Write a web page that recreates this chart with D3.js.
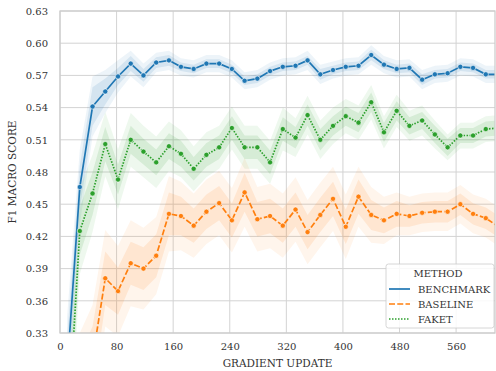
<!DOCTYPE html>
<html>
<head>
<meta charset="utf-8">
<script src="https://cdn.jsdelivr.net/npm/d3@7"></script>
<style>
  body { margin: 0; background: #fff; }
  text { font-family: "DejaVu Serif", serif; fill: #333; }
</style>
</head>
<body>
<div id="chart"></div>
<script>
// gradient update at which each evaluation was made
const updates = [10, 28, 46, 64, 82, 100, 118, 136, 154, 171, 189, 207, 225, 243, 261, 279, 297, 315,
  333, 350, 368, 386, 404, 422, 440, 458, 476, 494, 512, 530, 548, 566, 584, 602, 620];

const benchmark = [0.295, 0.466, 0.541, 0.555, 0.569, 0.581, 0.570, 0.582, 0.584, 0.578, 0.576, 0.581,
  0.581, 0.576, 0.565, 0.567, 0.574, 0.578, 0.579, 0.584, 0.571, 0.575, 0.578, 0.579, 0.589, 0.580,
  0.576, 0.577, 0.566, 0.571, 0.572, 0.578, 0.577, 0.571, 0.571];
const baseline = [0.26, 0.28, 0.306, 0.381, 0.369, 0.395, 0.390, 0.402, 0.441, 0.439, 0.430, 0.443,
  0.451, 0.435, 0.461, 0.436, 0.439, 0.430, 0.445, 0.424, 0.440, 0.455, 0.429, 0.457, 0.440, 0.435,
  0.441, 0.439, 0.442, 0.443, 0.443, 0.450, 0.441, 0.437, 0.429];
const faket = [0.225, 0.425, 0.460, 0.506, 0.473, 0.510, 0.499, 0.489, 0.504, 0.497, 0.483, 0.496,
  0.503, 0.521, 0.503, 0.503, 0.489, 0.520, 0.512, 0.533, 0.510, 0.523, 0.532, 0.526, 0.545, 0.517,
  0.537, 0.523, 0.528, 0.515, 0.503, 0.514, 0.514, 0.520, 0.521];

// half widths of the inner and outer uncertainty bands
const benchmarkInner = [0.03, 0.02, 0.018, 0.012, 0.008, 0.007, 0.006, 0.005, 0.005, 0.004, 0.004, 0.004,
  0.004, 0.004, 0.004, 0.004, 0.004, 0.004, 0.004, 0.004, 0.005, 0.004, 0.004, 0.004, 0.005, 0.004,
  0.004, 0.004, 0.005, 0.004, 0.004, 0.004, 0.004, 0.004, 0.004];
const benchmarkOuter = [0.05, 0.035, 0.028, 0.02, 0.015, 0.012, 0.011, 0.009, 0.009, 0.008, 0.008, 0.008,
  0.008, 0.008, 0.008, 0.008, 0.008, 0.008, 0.008, 0.009, 0.009, 0.008, 0.008, 0.008, 0.009, 0.008,
  0.008, 0.008, 0.009, 0.008, 0.008, 0.008, 0.008, 0.008, 0.008];
const baselineInner = [0.03, 0.03, 0.03, 0.025, 0.022, 0.02, 0.02, 0.02, 0.02, 0.018, 0.016, 0.016,
  0.016, 0.016, 0.018, 0.016, 0.016, 0.016, 0.016, 0.016, 0.016, 0.016, 0.016, 0.016, 0.014, 0.012,
  0.012, 0.01, 0.01, 0.01, 0.01, 0.01, 0.01, 0.01, 0.01];
const baselineOuter = [0.05, 0.05, 0.05, 0.045, 0.042, 0.04, 0.038, 0.036, 0.035, 0.032, 0.03, 0.03,
  0.03, 0.03, 0.032, 0.03, 0.03, 0.03, 0.03, 0.03, 0.03, 0.03, 0.03, 0.028, 0.026, 0.022,
  0.02, 0.018, 0.018, 0.018, 0.018, 0.018, 0.018, 0.018, 0.018];
const faketInner = [0.03, 0.022, 0.02, 0.016, 0.014, 0.013, 0.012, 0.012, 0.012, 0.012, 0.011, 0.011,
  0.011, 0.011, 0.011, 0.011, 0.011, 0.011, 0.01, 0.01, 0.01, 0.009, 0.009, 0.009, 0.009, 0.009,
  0.009, 0.008, 0.008, 0.008, 0.008, 0.007, 0.007, 0.007, 0.007];
const faketOuter = [0.05, 0.04, 0.036, 0.03, 0.028, 0.025, 0.024, 0.024, 0.023, 0.022, 0.021, 0.021,
  0.02, 0.02, 0.02, 0.02, 0.02, 0.02, 0.018, 0.018, 0.018, 0.017, 0.016, 0.016, 0.016, 0.015,
  0.015, 0.014, 0.014, 0.013, 0.012, 0.012, 0.012, 0.012, 0.012];

const xTicks = [0, 80, 160, 240, 320, 400, 480, 560];
const yTicks = [0.33, 0.36, 0.39, 0.42, 0.45, 0.48, 0.51, 0.54, 0.57, 0.60, 0.63];

const methods = [
  { name: "BENCHMARK", values: benchmark, inner: benchmarkInner, outer: benchmarkOuter, color: "#1f77b4", dash: null },
  { name: "BASELINE", values: baseline, inner: baselineInner, outer: baselineOuter, color: "#ff7f0e", dash: "6,2.25" },
  { name: "FAKET", values: faket, inner: faketInner, outer: faketOuter, color: "#2ca02c", dash: "1.5,1.5" }
];

const W = 496, H = 371;
const margin = { top: 11, right: 1, bottom: 38, left: 60 };
const width = W - margin.left - margin.right;
const height = H - margin.top - margin.bottom;

const svg = d3.select("#chart").append("svg")
  .attr("width", W)
  .attr("height", H);

const g = svg.append("g")
  .attr("transform", "translate(" + margin.left + "," + margin.top + ")");

const x = d3.scaleLinear().domain([0, 615]).range([0, width]);
const y = d3.scaleLinear().domain([0.33, 0.63]).range([height, 0]);

// grid
g.append("g").selectAll("line").data(xTicks).join("line")
  .attr("x1", d => x(d)).attr("x2", d => x(d))
  .attr("y1", 0).attr("y2", height)
  .style("stroke", "#d3d3d3").style("stroke-width", 1);
g.append("g").selectAll("line").data(yTicks).join("line")
  .attr("x1", 0).attr("x2", width)
  .attr("y1", d => y(d)).attr("y2", d => y(d))
  .style("stroke", "#d3d3d3").style("stroke-width", 1);

svg.append("defs").append("clipPath").attr("id", "clip")
  .append("rect").attr("width", width).attr("height", height);

const plot = g.append("g").attr("clip-path", "url(#clip)");

const area = d3.area()
  .x((d, i) => x(updates[i]))
  .y0(d => y(d[0]))
  .y1(d => y(d[1]));

methods.forEach(m => {
  plot.append("path")
    .datum(m.values.map((v, i) => [v - m.outer[i], v + m.outer[i]]))
    .attr("d", area)
    .style("fill", m.color).style("fill-opacity", 0.08);
  plot.append("path")
    .datum(m.values.map((v, i) => [v - m.inner[i], v + m.inner[i]]))
    .attr("d", area)
    .style("fill", m.color).style("fill-opacity", 0.12);
});

const line = d3.line()
  .x((d, i) => x(updates[i]))
  .y(d => y(d));

methods.forEach(m => {
  plot.append("path")
    .datum(m.values)
    .attr("d", line)
    .style("fill", "none")
    .style("stroke", m.color)
    .style("stroke-width", 1.7)
    .style("stroke-dasharray", m.dash);
  plot.append("g").selectAll("circle").data(m.values).join("circle")
    .attr("cx", (d, i) => x(updates[i]))
    .attr("cy", d => y(d))
    .attr("r", 2.6)
    .style("fill", m.color)
    .style("stroke", "#fff")
    .style("stroke-width", 0.6);
});

// frame
g.append("rect")
  .attr("width", width).attr("height", height)
  .style("fill", "none").style("stroke", "#cccccc").style("stroke-width", 1.25);

// axes
const xAxis = g.append("g")
  .attr("transform", "translate(0," + height + ")")
  .call(d3.axisBottom(x).tickValues(xTicks).tickSize(0).tickPadding(10).tickFormat(d3.format("d")));
const yAxis = g.append("g")
  .call(d3.axisLeft(y).tickValues(yTicks).tickSize(0).tickPadding(12).tickFormat(d3.format(".2f")));
[xAxis, yAxis].forEach(a => {
  a.select(".domain").remove();
  a.selectAll("text").style("font-family", "DejaVu Serif, serif").style("font-size", "10px").style("fill", "#333");
});

g.append("text")
  .attr("x", width / 2).attr("y", height + 34)
  .attr("text-anchor", "middle")
  .style("font-size", "10.5px")
  .text("GRADIENT UPDATE");

g.append("text")
  .attr("transform", "translate(" + (-44) + "," + (height / 2) + ") rotate(-90)")
  .attr("text-anchor", "middle")
  .style("font-size", "10.5px")
  .text("F1 MACRO SCORE");

// legend
const legend = svg.append("g").attr("transform", "translate(386,264)");
legend.append("rect")
  .attr("width", 108).attr("height", 64).attr("rx", 2.5)
  .style("fill", "#fff").style("fill-opacity", 0.85)
  .style("stroke", "#cccccc").style("stroke-width", 0.8);
legend.append("text")
  .attr("x", 52).attr("y", 13)
  .attr("text-anchor", "middle")
  .style("font-size", "10px")
  .text("METHOD");
methods.forEach((m, i) => {
  const row = legend.append("g").attr("transform", "translate(0," + (25 + i * 15) + ")");
  row.append("line")
    .attr("x1", 3).attr("x2", 24)
    .style("stroke", m.color).style("stroke-width", 1.7)
    .style("stroke-dasharray", m.dash);
  row.append("text")
    .attr("x", 32).attr("y", 3.5)
    .style("font-size", "10px")
    .text(m.name);
});
</script>
</body>
</html>
